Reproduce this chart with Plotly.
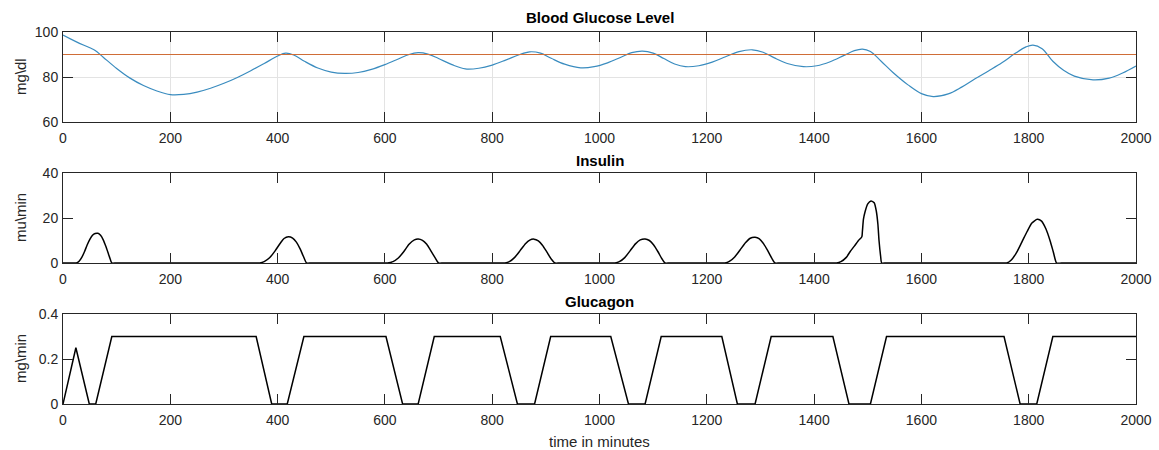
import plotly.graph_objects as go

# ---- data -------------------------------------------------------------
glucose_t = [0, 25, 50, 60, 75, 100, 125, 150, 175, 200, 225, 250, 275, 300, 325, 350,
             375, 400, 415, 430, 450, 475, 500, 525, 550, 575, 600, 625, 645, 662, 680,
             700, 725, 750, 775, 800, 825, 850, 870, 890, 910, 935, 965, 990, 1015, 1040,
             1060, 1080, 1100, 1120, 1140, 1160, 1185, 1210, 1235, 1260, 1285, 1305, 1325,
             1350, 1380, 1405, 1430, 1455, 1475, 1490, 1505, 1525, 1547, 1575, 1600, 1622,
             1650, 1675, 1700, 1725, 1750, 1775, 1795, 1808, 1825, 1845, 1865, 1885, 1920,
             1950, 1975, 2000]
glucose_v = [98.6, 95.6, 93.0, 91.8, 88.8, 83.8, 79.5, 76.2, 73.8, 72.2, 72.3, 73.3, 75.0,
             77.2, 79.8, 82.8, 86.0, 89.3, 90.6, 89.8, 87.0, 84.0, 82.2, 81.6, 82.0, 83.4,
             85.5, 88.0, 90.0, 90.8, 90.2, 88.2, 85.5, 83.6, 83.9, 85.3, 87.5, 89.9, 91.2,
             90.6, 88.3, 85.7, 84.1, 84.6, 86.3, 88.8, 90.8, 91.5, 90.6, 88.2, 85.8, 84.6,
             85.0, 86.6, 89.0, 91.3, 92.1, 91.0, 88.6, 86.0, 84.6, 85.0, 86.8, 89.5, 91.7,
             92.4, 91.3, 87.0, 82.0, 76.5, 72.6, 71.3, 72.5, 75.5, 79.2, 82.7, 86.3, 90.5,
             93.4, 94.2, 92.6, 87.0, 83.0, 80.4, 78.7, 79.5, 81.8, 84.9]
target_glucose = 90

insulin_t = [0, 15, 25, 30, 35, 40, 45, 50, 55, 60, 65, 70, 75, 80, 85, 89, 91, 100,
             357, 367, 375, 385, 395, 405, 412, 420, 428, 435, 442, 448, 454, 463,
             595, 605, 615, 625, 635, 645, 655, 662, 670, 678, 686, 694, 700, 709,
             814, 824, 832, 842, 852, 862, 870, 878, 886, 894, 902, 910, 917, 926,
             1019, 1029, 1037, 1047, 1057, 1067, 1076, 1085, 1093, 1101, 1109, 1116, 1122, 1131,
             1224, 1234, 1242, 1252, 1262, 1272, 1281, 1290, 1298, 1306, 1314, 1321, 1327, 1336,
             1432, 1442, 1450, 1460, 1467, 1475, 1482, 1489, 1490, 1492, 1495, 1500, 1506,
             1512, 1516, 1519, 1521, 1524, 1526, 1535,
             1749, 1759, 1767, 1777, 1787, 1797, 1806, 1816, 1824, 1832, 1840, 1846, 1852, 1861,
             2000]
insulin_v = [0, 0, 0, 0.8, 2.5, 5.0, 8.0, 10.5, 12.3, 13.1, 13.2, 12.3, 10.3, 7.3, 3.8, 1.0, 0, 0,
             0, 0, 0.6, 2.3, 5.3, 8.8, 10.9, 11.7, 11.1, 9.3, 6.3, 3.0, 0, 0,
             0, 0, 0.6, 2.2, 5.0, 8.3, 10.3, 10.7, 10.1, 8.3, 5.3, 2.2, 0, 0,
             0, 0, 0.6, 2.5, 5.5, 8.6, 10.2, 10.6, 9.8, 7.8, 4.8, 1.8, 0, 0,
             0, 0, 0.6, 2.4, 5.4, 8.5, 10.3, 10.7, 10.0, 8.0, 5.0, 2.0, 0, 0,
             0, 0, 0.7, 2.7, 5.8, 9.0, 11.0, 11.4, 10.7, 8.5, 5.3, 2.2, 0, 0,
             0, 0, 0.6, 2.5, 5.0, 7.5, 9.8, 11.7, 14.0, 19.5, 22.8, 26.3, 27.6,
             26.8, 23.0, 17.0, 10.0, 3.0, 0, 0,
             0, 0, 1.2, 4.5, 9.2, 14.0, 17.8, 19.4, 18.6, 15.2, 9.8, 4.8, 0, 0,
             0]

glucagon_t = [0, 24, 49, 61, 91, 360, 389, 418, 449, 602, 633, 662, 692, 815, 847, 879,
              909, 1021, 1054, 1085, 1115, 1228, 1257, 1290, 1320, 1435, 1465, 1505, 1535,
              1754, 1784, 1815, 1845, 2000]
glucagon_v = [0, 0.25, 0, 0, 0.3, 0.3, 0, 0, 0.3, 0.3, 0, 0, 0.3, 0.3, 0, 0,
              0.3, 0.3, 0, 0, 0.3, 0.3, 0, 0, 0.3, 0.3, 0, 0, 0.3,
              0.3, 0, 0, 0.3, 0.3]

x_ticks = [0, 200, 400, 600, 800, 1000, 1200, 1400, 1600, 1800, 2000]

panel_titles = ["Blood Glucose Level", "Insulin", "Glucagon"]
y_titles = ["mg\\dl", "mu\\min", "mg\\min"]
y_ticks = [[60, 80, 100], [0, 20, 40], [0, 0.2, 0.4]]
y_ticklabels = [["60", "80", "100"], ["0", "20", "40"], ["0", "0.2", "0.4"]]
y_ranges = [[60, 100], [0, 40], [0, 0.4]]

# ---- figure -----------------------------------------------------------
W, H = 1159, 450
AX = "#262626"
FONT = "Liberation Sans, Arial, sans-serif"

fig = go.Figure()
fig.add_trace(go.Scatter(x=glucose_t, y=glucose_v, mode="lines", line_shape="spline",
                         line=dict(color="#3a8cbf", width=1.2), xaxis="x", yaxis="y"))
fig.add_trace(go.Scatter(x=[0, 2000], y=[target_glucose, target_glucose], mode="lines",
                         line=dict(color="#cf6d37", width=1.2), xaxis="x", yaxis="y"))
fig.add_trace(go.Scatter(x=insulin_t, y=insulin_v, mode="lines", line_shape="spline",
                         line=dict(color="#000000", width=1.5, smoothing=0.6),
                         xaxis="x2", yaxis="y2"))
fig.add_trace(go.Scatter(x=glucagon_t, y=glucagon_v, mode="lines",
                         line=dict(color="#000000", width=1.5), xaxis="x3", yaxis="y3"))

x0, x1 = 63 / W, 1136 / W
panels_px = [(32, 122), (173, 263), (314, 404)]
title_px = [17, 160, 301]

layout = dict(
    width=W, height=H, margin=dict(l=0, r=0, t=0, b=0),
    paper_bgcolor="white", plot_bgcolor="white", showlegend=False,
    font=dict(family=FONT, size=14, color=AX),
)
annotations = []
for i, (top, bot) in enumerate(panels_px):
    sfx = "" if i == 0 else str(i + 1)
    grid = i == 0
    layout["xaxis" + sfx] = dict(
        domain=[x0, x1], anchor="y" + sfx, range=[0, 2000], tickvals=x_ticks,
        ticks="inside", ticklen=10, tickcolor=AX, tickwidth=1, ticklabelstandoff=3,
        showline=True, linecolor=AX, linewidth=1, mirror="ticks",
        showgrid=grid, gridcolor="#e3e3e3", gridwidth=1, zeroline=False,
        tickfont=dict(size=14, color=AX), automargin=False, fixedrange=True,
    )
    layout["yaxis" + sfx] = dict(
        domain=[1 - bot / H, 1 - top / H], anchor="x" + sfx, range=y_ranges[i],
        tickvals=y_ticks[i], ticktext=y_ticklabels[i],
        ticks="inside", ticklen=10, tickcolor=AX, tickwidth=1, ticklabelstandoff=1,
        showline=True, linecolor=AX, linewidth=1, mirror="ticks",
        showgrid=grid, gridcolor="#e3e3e3", gridwidth=1, zeroline=False,
        tickfont=dict(size=14, color=AX), automargin=False, fixedrange=True,
    )
    annotations.append(dict(
        text="<b>" + panel_titles[i] + "</b>", xref="paper", yref="paper",
        x=(x0 + x1) / 2, y=1 - title_px[i] / H, xanchor="center", yanchor="middle",
        showarrow=False, font=dict(size=15, color="#000000", family=FONT)))
    annotations.append(dict(
        text=y_titles[i], xref="paper", yref="paper", textangle=-90,
        x=20 / W, y=1 - (top + bot) / 2 / H, xanchor="center", yanchor="middle",
        showarrow=False, font=dict(size=15, color=AX, family=FONT)))

annotations.append(dict(
    text="time in minutes", xref="paper", yref="paper",
    x=(x0 + x1) / 2, y=1 - 441 / H, xanchor="center", yanchor="middle",
    showarrow=False, font=dict(size=15, color=AX, family=FONT)))

layout["annotations"] = annotations
fig.update_layout(**layout)

fig.write_html("out.html")
